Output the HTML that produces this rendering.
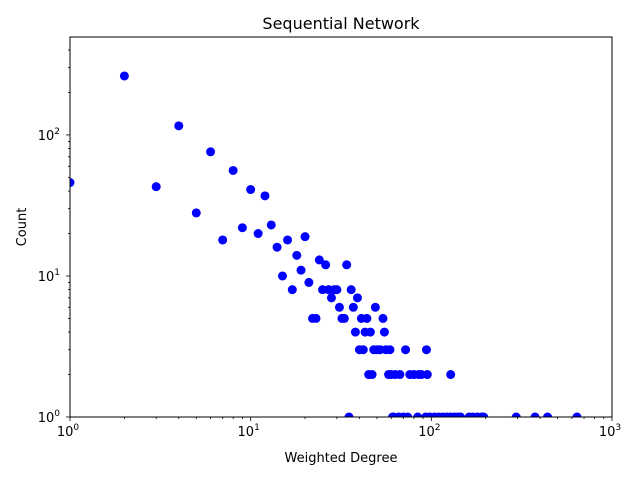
<!DOCTYPE html>
<html><head><meta charset="utf-8"><style>
body{margin:0;background:#fff;font-family:"Liberation Sans",sans-serif}
svg text{font-family:"DejaVu Sans","Liberation Sans",sans-serif}
</style></head><body>
<svg id="chart" width="640" height="480">
<defs><clipPath id="plotclip"><rect x="70" y="37" width="542" height="380"/></clipPath></defs>
<rect width="640" height="480" fill="#fff"/>
<text x="341" y="29" font-size="16" text-anchor="middle">Sequential Network</text>
<text x="341" y="462" font-size="13" text-anchor="middle">Weighted Degree</text>
<text x="26" y="227" font-size="13" text-anchor="middle" transform="rotate(-90 26 227)">Count</text>
<g id="ticks"></g><g id="pts" clip-path="url(#plotclip)"></g>
<rect x="70" y="37" width="542" height="380" fill="none" stroke="#000" stroke-width="1"/>
</svg>
<script>
const degrees=[1,2,3,4,5,6,7,8,9,10,11,12,13,14,15,16,17,18,19,20,21,22,23,24,25,26,27,28,29,30,31,32,33,34,35,36,37,38,39,40,41,42,43,44,45,46,47,48,49,50,52,54,55,56,58,59,60,61,62,63,66,67,70,72,74,76,80,84,85,88,93,94,95,98,104,110,116,122,128,128,134,140,145,162,170,180,190,195,295,375,440,640];
const counts=[46,262,43,116,28,76,18,56,22,41,20,37,23,16,10,18,8,14,11,19,9,5,5,13,8,12,8,7,8,8,6,5,5,12,1,8,6,4,7,3,5,3,4,5,2,4,2,3,6,3,3,5,4,3,2,3,2,1,1,2,1,2,1,3,1,2,2,1,2,2,1,3,2,1,1,1,1,1,2,1,1,1,1,1,1,1,1,1,1,1,1,1];
const xTickLabels=["0","1","2","3"];
const yTickLabels=["0","1","2"];
const NS="http://www.w3.org/2000/svg";
const L=70,R=612,T=37,B=417,xMin=0,xMax=3,yMin=0,yMax=Math.log10(495);
function xs(v){return L+(Math.log10(v)-xMin)/(xMax-xMin)*(R-L);}
function ys(v){return B-(Math.log10(v)-yMin)/(yMax-yMin)*(B-T);}
const tg=document.getElementById('ticks');
function line(x1,y1,x2,y2){const l=document.createElementNS(NS,'line');l.setAttribute('x1',x1);l.setAttribute('y1',y1);l.setAttribute('x2',x2);l.setAttribute('y2',y2);l.setAttribute('stroke','#000');l.setAttribute('stroke-width','0.8');


tg.appendChild(l);}
function lab(x,y,e,anchor){const t=document.createElementNS(NS,'text');t.setAttribute('x',x);t.setAttribute('y',y);t.setAttribute('font-size','13');t.setAttribute('text-anchor',anchor);
t.innerHTML='10<tspan dy="-6" font-size="9">'+e+'</tspan>';


tg.appendChild(t);}
xTickLabels.forEach(e=>{const v=Math.pow(10,+e);const x=xs(v);line(x,B,x,B+4);lab(x-2,B+19,e,'middle');
if(+e<3)for(let k=2;k<10;k++){const mx=xs(v*k);line(mx,B,mx,B+2);}});
yTickLabels.forEach(e=>{const v=Math.pow(10,+e);const y=ys(v);line(L,y,L-4,y);lab(L-10,y+5,e,'end');
for(let k=2;k<10;k++){const m=v*k;if(Math.log10(m)<=yMax){const my=ys(m);line(L,my,L-2,my);}}});
const pg=document.getElementById('pts');
degrees.forEach((d,i)=>{const c=document.createElementNS(NS,'circle');c.setAttribute('cx',xs(d));c.setAttribute('cy',ys(counts[i]));c.setAttribute('r','4.5');c.setAttribute('fill','#0000ff');


pg.appendChild(c);});
</script>
</body></html>
